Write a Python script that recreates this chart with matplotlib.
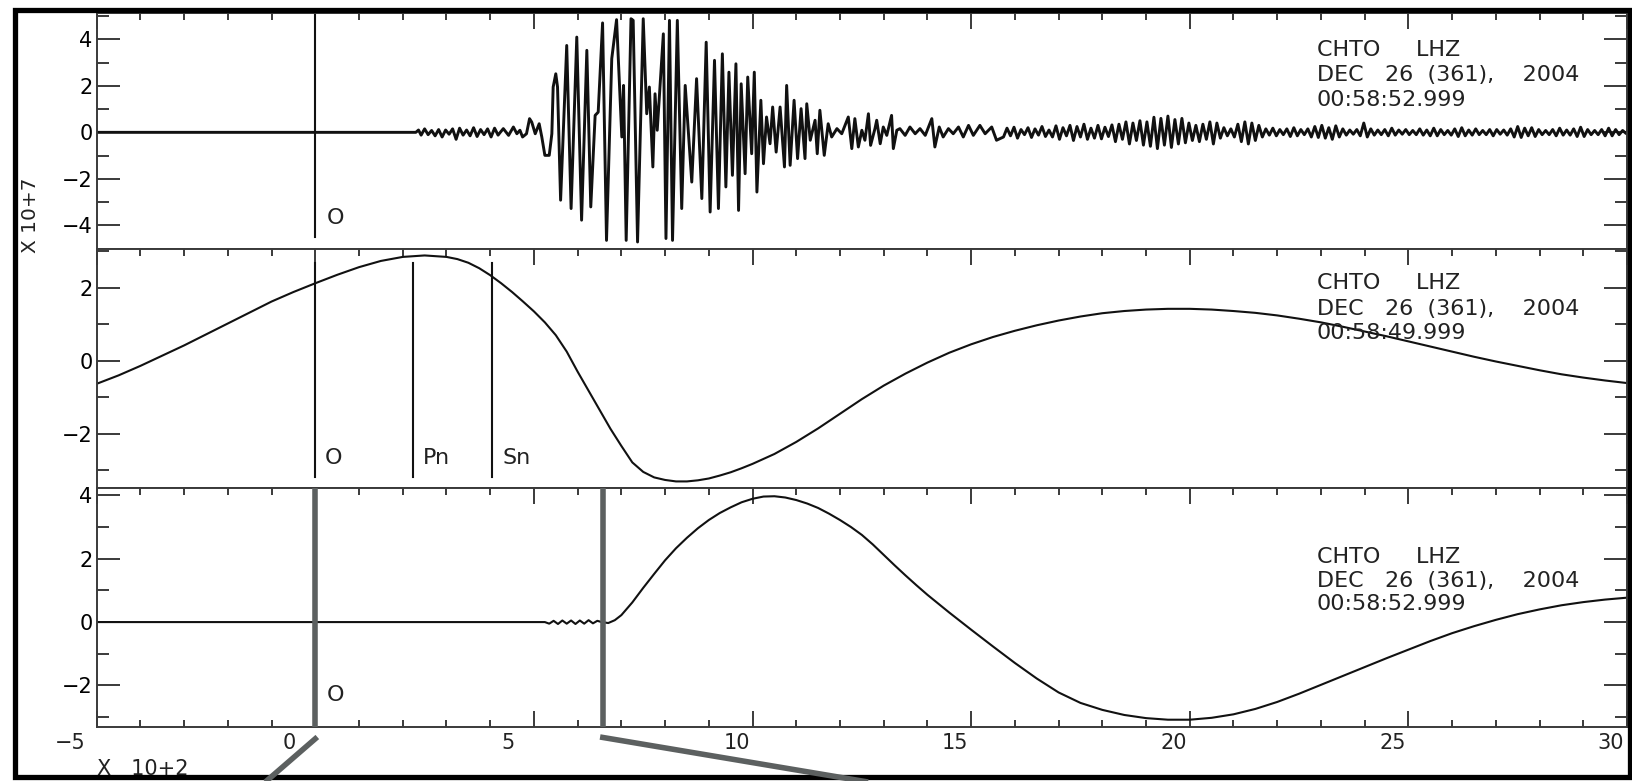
import matplotlib
matplotlib.use("Agg")
import matplotlib.pyplot as plt
import matplotlib.transforms as mtransforms
from matplotlib.ticker import MultipleLocator
from matplotlib.lines import Line2D
from matplotlib.patches import Rectangle

# ---------------- data (time in units of 10^2 s) ----------------
# top panel: broadband seismogram (amplitude x 10^7)
top_flat_t = [-5.0, 2.30]
top_flat_v = [0.0, 0.0]

top_pre_t = [2.36, 2.42, 2.50, 2.58, 2.66, 2.74, 2.82, 2.90, 2.98, 3.06,
             3.14, 3.22, 3.30, 3.38, 3.46, 3.54, 3.62, 3.70, 3.78, 3.86,
             3.94, 4.02, 4.10, 4.18]
top_pre_v = [0.10, -0.12, 0.15, -0.10, 0.08, -0.15, 0.12, -0.20, 0.10, -0.08,
             0.15, -0.30, 0.18, -0.12, 0.10, -0.15, 0.20, -0.18, 0.12, -0.10,
             0.15, -0.20, 0.18, -0.12]

top_burst_t = [4.23, 4.30, 4.42, 4.53, 4.61, 4.68, 4.74, 4.83, 4.90, 4.95,
               5.03, 5.12, 5.18, 5.25, 5.35, 5.41, 5.44, 5.50, 5.54, 5.61,
               5.75, 5.85, 5.98, 6.09, 6.21, 6.30, 6.40, 6.47, 6.57, 6.66,
               6.78, 6.89, 7.01, 7.05, 7.11, 7.22, 7.27, 7.37, 7.50, 7.58,
               7.64, 7.72, 7.77, 7.82, 7.96, 8.02, 8.10, 8.17, 8.28, 8.38,
               8.46, 8.61, 8.72, 8.84, 8.94, 9.03, 9.13, 9.22, 9.31, 9.39,
               9.46, 9.54, 9.62, 9.68, 9.74, 9.83, 9.89, 9.98, 10.04, 10.10,
               10.19, 10.25, 10.32, 10.40, 10.46, 10.54, 10.63, 10.73, 10.78, 10.86,
               10.95, 11.03, 11.11, 11.20, 11.24, 11.32, 11.43, 11.48, 11.54, 11.64,
               11.73, 11.81, 11.93, 12.04, 12.19, 12.27, 12.34, 12.42, 12.50, 12.57,
               12.65, 12.70, 12.80, 12.84, 12.92, 12.99, 13.07, 13.18, 13.22, 13.30,
               13.37, 13.49, 13.60, 13.72, 13.83, 13.95, 14.10, 14.17, 14.27, 14.36,
               14.48, 14.59, 14.71, 14.82, 14.94, 15.05, 15.20, 15.32, 15.47, 15.58]
top_burst_v = [0.0, 0.16, -0.13, 0.23, -0.06, 0.09, -0.20, -0.06, 0.59, 0.44,
               -0.06, 0.37, -0.20, -0.99, -0.99, -0.06, 1.95, 2.52, 1.95, -2.92,
               3.74, -3.28, 4.10, -3.78, 3.53, -3.21, 0.73, 0.87, 4.71, -4.65,
               3.17, 4.85, -0.20, 2.02, -4.65, 4.89, 4.82, -4.72, 4.89, 0.80,
               1.95, -1.49, 1.66, 0.09, 4.24, -4.57, 4.82, -4.65, 4.82, -3.28,
               2.02, -2.14, 2.31, -2.85, 3.88, -3.43, 3.10, -3.28, 3.38, -2.35,
               2.59, -1.85, 2.95, -3.36, 2.09, -1.78, 2.38, -0.92, 2.59, -2.57,
               1.38, -1.35, 0.66, -0.49, 1.09, -0.85, 1.09, -1.49, 2.02, -1.42,
               1.38, -1.13, 1.02, -1.13, 1.23, -0.34, 0.52, -0.92, 0.95, -0.99,
               0.37, -0.20, 0.16, -0.06, 0.66, -0.70, 0.59, -0.63, 0.09, -0.34,
               0.80, -0.56, 0.16, 0.52, -0.49, 0.23, -0.13, 0.73, -0.70, 0.09,
               0.16, -0.13, 0.23, -0.06, 0.16, -0.13, 0.59, -0.63, 0.23, -0.20,
               0.16, -0.06, 0.23, -0.20, 0.30, -0.13, 0.30, -0.06, 0.23, -0.34]

top_tail_t = [15.74, 15.82, 15.90, 15.98, 16.06, 16.14, 16.22, 16.30, 16.38, 16.46,
              16.54, 16.62, 16.70, 16.78, 16.86, 16.94, 17.02, 17.10, 17.18, 17.26,
              17.34, 17.42, 17.50, 17.58, 17.66, 17.74, 17.82, 17.90, 17.98, 18.06,
              18.14, 18.22, 18.30, 18.38, 18.46, 18.54, 18.62, 18.70, 18.78, 18.86,
              18.94, 19.02, 19.10, 19.18, 19.26, 19.34, 19.42, 19.50, 19.58, 19.66,
              19.74, 19.82, 19.90, 19.98, 20.06, 20.14, 20.22, 20.30, 20.38, 20.46,
              20.54, 20.62, 20.70, 20.78, 20.86, 20.94, 21.02, 21.10, 21.18, 21.26,
              21.34, 21.42, 21.50, 21.58, 21.66, 21.74, 21.82, 21.90, 21.98, 22.06,
              22.14, 22.22, 22.30, 22.38, 22.46, 22.54, 22.62, 22.70, 22.78, 22.86,
              22.94, 23.02, 23.10, 23.18, 23.26, 23.34, 23.42, 23.50, 23.58, 23.66,
              23.74, 23.82, 23.90, 23.98, 24.06, 24.14, 24.22, 24.30, 24.38, 24.46,
              24.54, 24.62, 24.70, 24.78, 24.86, 24.94, 25.02, 25.10, 25.18, 25.26,
              25.34, 25.42, 25.50, 25.58, 25.66, 25.74, 25.82, 25.90, 25.98, 26.06,
              26.14, 26.22, 26.30, 26.38, 26.46, 26.54, 26.62, 26.70, 26.78, 26.86,
              26.94, 27.02, 27.10, 27.18, 27.26, 27.34, 27.42, 27.50, 27.58, 27.66,
              27.74, 27.82, 27.90, 27.98, 28.06, 28.14, 28.22, 28.30, 28.38, 28.46,
              28.54, 28.62, 28.70, 28.78, 28.86, 28.94, 29.02, 29.10, 29.18, 29.26,
              29.34, 29.42, 29.50, 29.58, 29.66, 29.74, 29.82, 29.90, 29.98, 30.00]
top_tail_v = [-0.20, 0.18, -0.15, 0.22, -0.25, 0.12, -0.10, 0.20, -0.22, 0.15,
              -0.12, 0.25, -0.18, 0.10, -0.20, 0.28, -0.30, 0.20, -0.15, 0.30,
              -0.35, 0.25, -0.20, 0.35, -0.30, 0.18, -0.25, 0.30, -0.28, 0.22,
              -0.18, 0.32, -0.40, 0.35, -0.30, 0.45, -0.50, 0.40, -0.35, 0.50,
              -0.55, 0.45, -0.60, 0.65, -0.70, 0.60, -0.55, 0.70, -0.65, 0.55,
              -0.50, 0.60, -0.45, 0.40, -0.35, 0.30, -0.40, 0.35, -0.30, 0.45,
              -0.50, 0.40, -0.25, 0.20, -0.15, 0.15, -0.20, 0.35, -0.40, 0.45,
              -0.50, 0.40, -0.35, 0.30, -0.20, 0.15, -0.12, 0.18, -0.15, 0.12,
              -0.10, 0.15, -0.18, 0.20, -0.15, 0.12, -0.10, 0.15, -0.20, 0.25,
              -0.22, 0.30, -0.25, 0.20, -0.30, 0.28, -0.20, 0.15, -0.12, 0.10,
              -0.08, 0.12, -0.15, 0.40, -0.20, 0.15, -0.12, 0.10, -0.10, 0.12,
              -0.15, 0.18, -0.12, 0.10, -0.08, 0.12, -0.10, 0.08, -0.10, 0.15,
              -0.12, 0.10, -0.15, 0.18, -0.15, 0.12, -0.10, 0.08, -0.12, 0.15,
              -0.18, 0.20, -0.15, 0.10, -0.12, 0.15, -0.10, 0.08, -0.10, 0.12,
              -0.15, 0.12, -0.08, 0.10, -0.12, 0.15, -0.20, 0.25, -0.22, 0.18,
              -0.15, 0.20, -0.18, 0.12, -0.10, 0.08, -0.10, 0.12, -0.15, 0.18,
              -0.12, 0.10, -0.12, 0.15, -0.18, 0.22, -0.18, 0.12, -0.10, 0.08,
              -0.10, 0.12, -0.15, 0.18, -0.15, 0.12, -0.10, 0.08, -0.05, 0.0]

# middle panel: long-period trace
mid_t = [-5.0, -4.5, -4.0, -3.5, -3.0, -2.5, -2.0, -1.5, -1.0, -0.5,
         0.0, 0.5, 1.0, 1.5, 2.0, 2.5, 3.0, 3.25, 3.5, 3.75,
         4.0, 4.25, 4.5, 4.75, 5.0, 5.25, 5.5, 5.75, 6.0, 6.25,
         6.5, 6.75, 7.0, 7.25, 7.5, 7.75, 8.0, 8.25, 8.5, 8.75,
         9.0, 9.25, 9.5, 9.75, 10.0, 10.5, 11.0, 11.5, 12.0, 12.5,
         13.0, 13.5, 14.0, 14.5, 15.0, 15.5, 16.0, 16.5, 17.0, 17.5,
         18.0, 18.5, 19.0, 19.5, 20.0, 20.5, 21.0, 21.5, 22.0, 22.5,
         23.0, 23.5, 24.0, 24.5, 25.0, 25.5, 26.0, 26.5, 27.0, 27.5,
         28.0, 28.5, 29.0, 29.5, 30.0]
mid_v = [-0.63, -0.40, -0.14, 0.14, 0.42, 0.72, 1.02, 1.32, 1.62, 1.88,
         2.12, 2.35, 2.56, 2.73, 2.84, 2.88, 2.84, 2.78, 2.68, 2.53,
         2.34, 2.12, 1.88, 1.62, 1.35, 1.05, 0.70, 0.25, -0.30, -0.82,
         -1.34, -1.86, -2.33, -2.78, -3.04, -3.19, -3.26, -3.30, -3.30, -3.27,
         -3.22, -3.14, -3.05, -2.94, -2.82, -2.55, -2.22, -1.85, -1.45, -1.05,
         -0.68, -0.35, -0.05, 0.22, 0.45, 0.65, 0.82, 0.97, 1.10, 1.21,
         1.30, 1.36, 1.40, 1.42, 1.42, 1.40, 1.36, 1.31, 1.24, 1.15,
         1.05, 0.93, 0.80, 0.67, 0.53, 0.39, 0.25, 0.11, -0.02, -0.14,
         -0.26, -0.37, -0.46, -0.54, -0.61]

# bottom panel: filtered trace
bot_t = [-5.0, 5.25, 5.35, 5.45, 5.55, 5.65, 5.75, 5.85, 5.95, 6.05,
         6.15, 6.25, 6.35, 6.45, 6.55, 6.70, 6.85, 7.0, 7.25, 7.5,
         7.75, 8.0, 8.25, 8.5, 8.75, 9.0, 9.25, 9.5, 9.75, 10.0,
         10.25, 10.5, 10.75, 11.0, 11.25, 11.5, 11.75, 12.0, 12.25, 12.5,
         12.75, 13.0, 13.25, 13.5, 13.75, 14.0, 14.5, 15.0, 15.5, 16.0,
         16.5, 17.0, 17.5, 18.0, 18.5, 19.0, 19.5, 20.0, 20.5, 21.0,
         21.5, 22.0, 22.5, 23.0, 23.5, 24.0, 24.5, 25.0, 25.5, 26.0,
         26.5, 27.0, 27.5, 28.0, 28.5, 29.0, 29.5, 30.0]
bot_v = [0.0, 0.0, -0.05, 0.04, -0.06, 0.05, -0.05, 0.05, -0.06, 0.05,
         -0.05, 0.06, -0.04, 0.04, 0.0, -0.03, 0.06, 0.22, 0.62, 1.08,
         1.52, 1.95, 2.33, 2.66, 2.96, 3.22, 3.44, 3.62, 3.78, 3.89,
         3.96, 3.97, 3.93, 3.85, 3.74, 3.60, 3.42, 3.22, 3.00, 2.75,
         2.45, 2.12, 1.79, 1.47, 1.16, 0.86, 0.30, -0.24, -0.77, -1.29,
         -1.78, -2.22, -2.55, -2.77, -2.93, -3.03, -3.08, -3.08, -3.02, -2.91,
         -2.74, -2.52, -2.26, -1.98, -1.70, -1.42, -1.14, -0.87, -0.60, -0.35,
         -0.13, 0.07, 0.25, 0.40, 0.53, 0.63, 0.71, 0.77]

# phase markers
top_markers = {"O": 0.0}
mid_markers = {"O": 0.0, "Pn": 2.24, "Sn": 4.05}
bot_markers = {"O": 0.0, "": 6.57}

header_station = "CHTO     LHZ"
header_date = "DEC   26  (361),    2004"
header_times = ["00:58:52.999", "00:58:49.999", "00:58:52.999"]

xticks = [-5, 0, 5, 10, 15, 20, 25, 30]
xtick_labels = ["\u22125", "0", "5", "10", "15", "20", "25", "30"]

# ---------------- figure ----------------
W, H = 1632, 781
fig = plt.figure(figsize=(W / 100, H / 100), dpi=100)
fig.patch.set_facecolor("white")

left_px, right_px = 96.7, 1627.0
bounds_px = [(12.7, 248.5), (248.5, 488.0), (488.0, 727.0)]
ylims = [(-5.0, 5.15), (-3.48, 3.07), (-3.31, 4.23)]

axes = []
for (ytop, ybot), yl in zip(bounds_px, ylims):
    ax = fig.add_axes([left_px / W, 1 - ybot / H, (right_px - left_px) / W, (ybot - ytop) / H])
    ax.set_xlim(-5, 30)
    ax.set_ylim(*yl)
    axes.append(ax)

spine_col = "#3a3a3a"
for i, ax in enumerate(axes):
    for s in ax.spines.values():
        s.set_color(spine_col)
        s.set_linewidth(1.4)
    ax.xaxis.set_major_locator(MultipleLocator(5))
    ax.xaxis.set_minor_locator(MultipleLocator(1))
    ax.yaxis.set_major_locator(MultipleLocator(2))
    ax.yaxis.set_minor_locator(MultipleLocator(1))
    last = (i == 2)
    ax.tick_params(axis="x", which="major", direction="in", length=11.5, width=1.4,
                   color=spine_col, top=True, bottom=last, labelbottom=False)
    ax.tick_params(axis="x", which="minor", direction="in", length=5, width=1.4,
                   color=spine_col, top=True, bottom=last)
    ax.tick_params(axis="y", which="major", direction="in", length=16.5, width=1.4,
                   color=spine_col, left=True, right=True, labelsize=15, pad=3)
    ax.tick_params(axis="y", which="minor", direction="in", length=8.6, width=1.4,
                   color=spine_col, left=True, right=True)
    for lab in ax.get_yticklabels():
        lab.set_fontfamily("DejaVu Sans")

ax1, ax2, ax3 = axes

# traces
t_top = top_flat_t + top_pre_t + top_burst_t + top_tail_t
v_top = top_flat_v + top_pre_v + top_burst_v + top_tail_v
ax1.plot(t_top, v_top, color="#111111", lw=2.1, solid_joinstyle="round")
ax2.plot(mid_t, mid_v, color="#111111", lw=1.5)
ax3.plot(bot_t, bot_v, color="#111111", lw=1.5)

txt_kw = dict(fontsize=16, color="#222222", family="DejaVu Sans")

# markers
for name, t in top_markers.items():
    ax1.plot([t, t], [-4.52, ylims[0][1]], color="#111111", lw=1.5)
    ax1.annotate(name, xy=(t, -3.70), xytext=(8, 0), textcoords="offset points",
                 ha="left", va="center", **txt_kw)
for name, t in mid_markers.items():
    ax2.plot([t, t], [-3.18, 2.68], color="#111111", lw=1.5)
    ax2.annotate(name, xy=(t, -2.66), xytext=(7, 0), textcoords="offset points",
                 ha="left", va="center", **txt_kw)
gray = "#5c6060"
for name, t in bot_markers.items():
    ax3.plot([t, t], list(ylims[2]), color=gray, lw=4.0, solid_capstyle="butt", zorder=3)
    if name:
        ax3.annotate(name, xy=(t, -2.30), xytext=(8, 0), textcoords="offset points",
                     ha="left", va="center", **txt_kw)

# header annotations
head_y_px = [(50, 75, 100), (283, 309, 333), (557, 581, 604)]
for ax, ys, tstr in zip(axes, head_y_px, header_times):
    for yy, s in zip(ys, [header_station, header_date, tstr]):
        ax.text(1317.0 / W, 1 - yy / H, s, transform=fig.transFigure,
                ha="left", va="center", **txt_kw)

# x tick labels (bottom panel), SAC places them slightly left of the ticks
for xt, lab in zip(xticks, xtick_labels):
    dx = -19 if (len(lab) == 1 or lab.startswith("\u2212")) else -11.5
    ax3.annotate(lab, xy=(xt, 0), xycoords=("data", "axes fraction"),
                 xytext=(dx, -11.5), textcoords="offset points",
                 ha="center", va="center", fontsize=15, color="#222222",
                 family="DejaVu Sans", annotation_clip=False)

# axis scale labels
fig.text(30 / W, 1 - 215 / H, "X 10+7", rotation=90, ha="center", va="center",
         fontsize=14.5, color="#222222", family="DejaVu Sans")
fig.text(97 / W, 1 - 769 / H, "X   10+2", ha="left", va="center",
         fontsize=15, color="#222222", family="DejaVu Sans")

# outer black frame
frame = Rectangle((15.5 / W, 1 - 777 / H), (1630 - 15.5) / W, (777 - 9.5) / H,
                  transform=fig.transFigure, fill=False, ec="black", lw=3.8, zorder=10)
fig.add_artist(frame)

# gray call-out lines leaving the bottom panel below the two gray markers
ident = mtransforms.IdentityTransform()
callouts = [(bot_markers["O"], 2, -52), (bot_markers[""], -2.5, 268)]
for t, dx0, dx1 in callouts:
    px, py = ax3.transData.transform((t, ylims[2][0]))
    ln = Line2D([px + dx0, px + dx0 + dx1], [py - 10, -1], transform=ident,
                color=gray, lw=4.0, solid_capstyle="butt", zorder=11)
    fig.add_artist(ln)

fig.savefig("out.png", dpi=100, facecolor="white")
